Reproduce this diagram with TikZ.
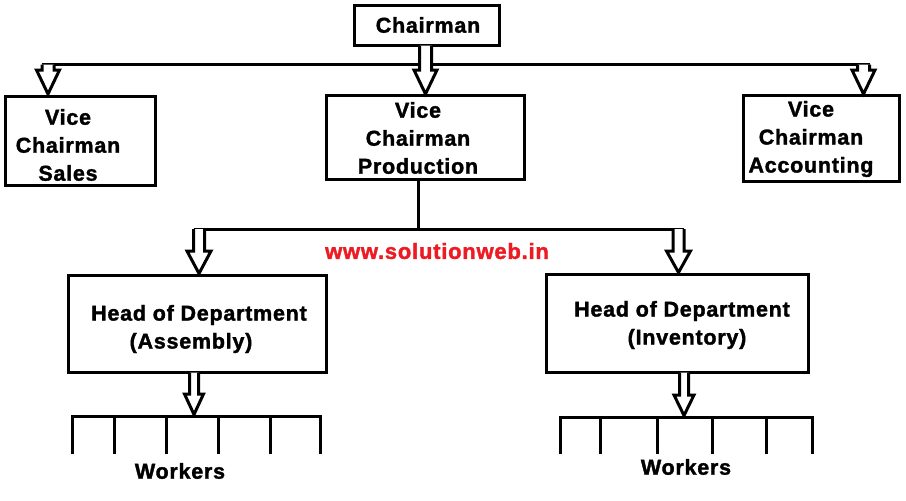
\documentclass[tikz,border=0pt]{standalone}
\usepackage{fontspec}
\setmainfont{Liberation Sans}
\newfontfamily\paintfont{Liberation Sans Bold}[FakeBold=1.6, LetterSpace=3.5]
\definecolor{wmred}{RGB}{237,28,36}
\newcommand\barrow[6]{%
  \draw[conn, fill=white, line join=miter]
    ({#1-#5},#2) -- ({#1-#5},#3) -- ({#1-#6},#3) -- (#1,#4) -- ({#1+#6},#3) -- ({#1+#5},#3) -- ({#1+#5},#2);}
\begin{document}
\begin{tikzpicture}[x=1pt,y=-1pt,
  conn/.style={line width=3pt},
  box/.style={draw, line width=3pt, inner sep=0pt, outer sep=0pt},
  lbl/.style={font=\paintfont\fontsize{21.5}{28}\selectfont, align=center, inner sep=0pt},
  wm/.style={font=\paintfont\fontsize{22}{26}\selectfont, text=wmred, inner sep=0pt}]
\useasboundingbox[fill=white] (0,0) rectangle (906,501);
% boxes
\node[box, minimum width=145pt, minimum height=40pt] (chair) at (427,25.5) {};
\node[box, minimum width=150pt, minimum height=89pt] (vcs) at (80.5,141) {};
\node[box, minimum width=198pt, minimum height=84pt] (vcp) at (425.5,137.5) {};
\node[box, minimum width=156pt, minimum height=86pt] (vca) at (821.5,138.5) {};
\node[box, minimum width=258pt, minimum height=97pt] (hoda) at (197.5,324) {};
\node[box, minimum width=262pt, minimum height=98pt] (hodi) at (677.5,323.5) {};
% labels
\node[lbl] (tchair) at (428,25) {Chairman};
\node[lbl] (tvcs) at (68,145) {Vice\\Chairman\\Sales};
\node[lbl] (tvcp) at (418,138) {Vice\\Chairman\\Production};
\node[lbl] (tvca) at (811,139) {Vice\\Chairman\\Accounting};
\node[lbl] (thoda) at (199,329) {Head of Department\\\hspace*{-16pt}(Assembly)};
\node[lbl] (thodi) at (682,325) {Head of Department\\\hspace*{10pt}(Inventory)};
\node[wm] (www) at (437,251) {www.solutionweb.in};
% top level connectors
\coordinate (busL) at (42,64.5);
\coordinate (busR) at (869.5,64.5);
\draw[conn] (busL) -- (busR);
\barrow{48}{64.5}{70}{94}{6}{11.5}
\barrow{863.5}{64.5}{70}{94}{6}{11.5}
\barrow{425.5}{45.5}{70}{94}{6}{11.5}
% production to heads
\coordinate (pbus) at (418,229);
\draw[conn] (vcp.south -| pbus) -- (pbus);
\draw[conn] (193.5,229) -- (684,229);
\barrow{199}{229}{251}{273.5}{5.5}{12}
\barrow{678.5}{229}{251}{272.5}{5.5}{12}
% workers left
\coordinate (wl) at (72,416);
\coordinate (wr) at (320,416);
\draw[conn, line join=miter] (wl) ++(0,38) -- (wl) -- (wr) -- ++(0,38);
\foreach \x in {114,166,218,270} \draw[conn] (\x,416) -- (\x,454);
\barrow{194}{372.5}{394}{414.5}{4.5}{9.5}
\node[lbl] (wkl) at (180,471) {Workers};
% workers right
\coordinate (vl) at (560,417);
\coordinate (vr) at (812,417);
\draw[conn, line join=miter] (vl) ++(0,37) -- (vl) -- (vr) -- ++(0,37);
\foreach \x in {600,657,712,766} \draw[conn] (\x,417) -- (\x,454);
\barrow{684}{372.5}{395}{415.5}{4.5}{10}
\node[lbl] (wkr) at (686,467) {Workers};
\end{tikzpicture}
\end{document}
